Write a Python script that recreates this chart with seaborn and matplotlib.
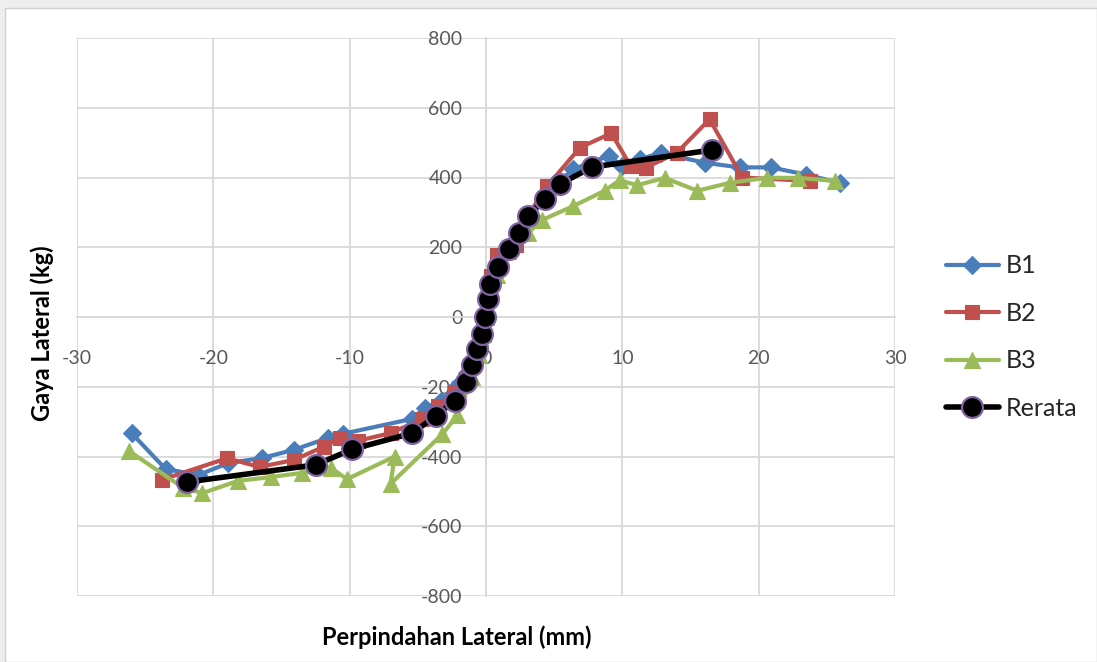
import matplotlib
matplotlib.use("Agg")
import matplotlib.pyplot as plt
import matplotlib.patches as mpatches
import seaborn as sns

# Lateral load vs lateral displacement for three specimens and their average
b1_x = [-26.0, -23.5, -21.1, -18.9, -16.4, -14.1, -11.6, -10.5, -5.4, -4.5, -3.3,
        -2.2, -1.4, -0.9, -0.5, -0.2, 0.0, 0.2, 0.5, 1.0, 1.7, 2.5, 3.3, 4.3, 5.3,
        6.4, 9.0, 10.0, 11.3, 12.8, 16.1, 18.6, 20.9, 23.5, 26.0]
b1_y = [-333, -436, -453, -419, -404, -381, -347, -335, -292, -261, -240,
        -200, -160, -120, -80, -40, 0, 50, 100, 150, 195, 245, 290, 340, 385,
        424, 462, 433, 453, 470, 442, 429, 429, 408, 384]

b2_x = [-23.8, -19.0, -16.6, -14.1, -11.9, -10.7, -9.4, -7.0, -4.7, -3.5, -2.3,
        -1.4, -0.9, -0.5, -0.2, 0.0, 0.15, 0.4, 0.8, 1.6, 2.2, 3.2, 4.5, 6.9,
        9.2, 10.6, 11.7, 14.0, 16.4, 18.8, 23.8]
b2_y = [-467, -405, -430, -410, -372, -347, -355, -333, -293, -255, -215,
        -178, -132, -83, -40, 0, 62, 118, 178, 196, 207, 298, 376, 486,
        527, 433, 428, 471, 567, 400, 390]

b3_x = [-26.2, -22.2, -20.8, -18.2, -15.8, -13.5, -11.4, -10.2, -6.7, -7.0, -3.2,
        -2.1, -1.0, -0.5, -0.2, 0.0, 0.3, 0.8, 1.6, 3.1, 4.1, 6.4, 8.7, 9.8,
        11.1, 13.1, 15.5, 17.9, 20.6, 22.9, 25.6]
b3_y = [-384, -490, -505, -470, -459, -447, -432, -465, -400, -478, -336,
        -282, -172, -110, -50, 0, 60, 120, 190, 241, 278, 318, 362, 392,
        378, 399, 362, 385, 399, 399, 390]

avg_x = [-21.9, -12.5, -9.8, -5.4, -3.7, -2.3, -1.5, -1.0, -0.66, -0.3, -0.1,
         0.15, 0.3, 0.9, 1.7, 2.4, 3.1, 4.3, 5.4, 7.8, 16.6]
avg_y = [-473, -424, -379, -333, -284, -240, -186, -138, -92, -49, 0,
         52, 95, 143, 195, 241, 290, 338, 381, 430, 479]

x_ticks = [-30, -20, -10, 0, 10, 20, 30]
y_ticks = [-800, -600, -400, -200, 0, 200, 400, 600, 800]

sns.set_theme(style="white")
plt.rcParams["font.family"] = ["Lato", "DejaVu Sans"]

fig = plt.figure(figsize=(10.97, 6.62), dpi=100)
fig.patch.set_facecolor("#eeeeee")
# chart area panel
fig.add_artist(mpatches.Rectangle((0.005, 0.0), 0.995, 0.988, transform=fig.transFigure,
                                  facecolor="white", edgecolor="#d0d0d0", linewidth=1.0,
                                  zorder=0))

ax = fig.add_axes([77 / 1097, 66 / 662, 818 / 1097, 558 / 662])
ax.set_facecolor("none")

series = [
    ("B1", b1_x, b1_y, "#4a7ebb", "D", 9, "#4a7ebb", 3.0),
    ("B2", b2_x, b2_y, "#c0504d", "s", 10, "#c0504d", 3.0),
    ("B3", b3_x, b3_y, "#9bbb59", "^", 11, "#9bbb59", 3.0),
    ("Rerata", avg_x, avg_y, "black", "o", 15, "#8064a2", 4.0),
]
for name, xs, ys, col, mk, ms, mec, lw in series:
    sns.lineplot(x=xs, y=ys, ax=ax, sort=False, estimator=None, color=col,
                 marker=mk, markersize=ms, markerfacecolor=col,
                 markeredgecolor=mec, markeredgewidth=1.6 if name == "Rerata" else 0.8,
                 linewidth=lw, label=name, zorder=3)

ax.set_xlim(-30, 30)
ax.set_ylim(-800, 800)
ax.set_xticks(x_ticks)
ax.set_yticks(y_ticks)
ax.grid(True, color="#d9d9d9", linewidth=1.3, zorder=0)
ax.set_axisbelow(True)

for side in ["top", "right"]:
    ax.spines[side].set_visible(False)
for side in ["left", "bottom"]:
    ax.spines[side].set_position(("data", 0))
    ax.spines[side].set_color("#d9d9d9")
    ax.spines[side].set_linewidth(1.3)

ax.tick_params(axis="both", length=0, labelsize=14, labelcolor="#595959")
ax.tick_params(axis="y", pad=17)
ax.tick_params(axis="x", pad=24)
ax.set_xticklabels([str(v) for v in x_ticks])
ax.set_yticklabels([str(v) for v in y_ticks])

ax.set_xlabel("")
ax.set_ylabel("")
fig.text(457 / 1097, 1 - 637 / 662, "Perpindahan Lateral (mm)", ha="center", va="center",
         fontsize=17, fontweight="bold", color="black")
fig.text(42 / 1097, 1 - 333 / 662, "Gaya Lateral (kg)", ha="center", va="center",
         rotation=90, fontsize=17, fontweight="bold", color="black")

leg = ax.legend(loc="center left", bbox_to_anchor=(946 / 1097, 1 - 337 / 662),
                bbox_transform=fig.transFigure, frameon=False, fontsize=18,
                handlelength=2.1, labelspacing=0.98, handletextpad=0.3,
                borderpad=0, borderaxespad=0)

fig.savefig("out.png", dpi=100, facecolor=fig.get_facecolor())
